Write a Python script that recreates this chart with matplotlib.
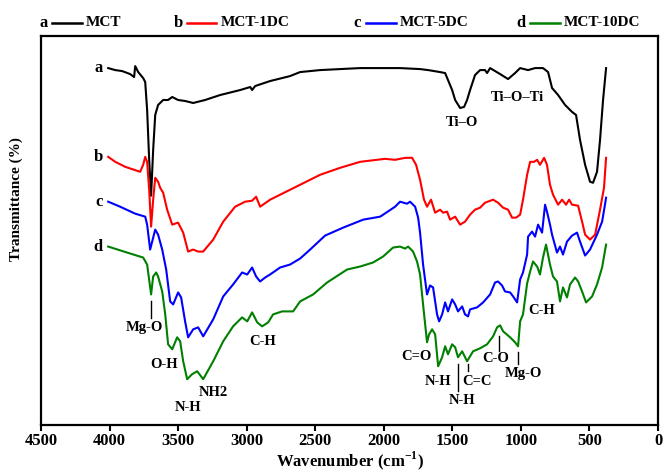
import matplotlib
matplotlib.use("Agg")
import matplotlib.pyplot as plt
from matplotlib.lines import Line2D

plt.rcParams['font.family'] = ['Liberation Serif', 'DejaVu Serif']
plt.rcParams['font.weight'] = 'bold'
plt.rcParams['mathtext.fontset'] = 'custom'
plt.rcParams['mathtext.rm'] = 'Liberation Serif'
plt.rcParams['mathtext.bf'] = 'Liberation Serif:bold'

# Spektren, Wellenzahl in cm-1, Transmission in willk. Einheiten (versetzt)
wn_a = [4011, 3960, 3909, 3851, 3822, 3814, 3792, 3756, 3741, 3727, 3712, 3698, 3683, 3668, 3647, 3610,
        3574, 3544, 3501, 3450, 3391, 3304, 3194, 3048, 2975, 2961, 2939, 2830, 2684, 2611, 2465, 2173,
        1882, 1736, 1677, 1590, 1553, 1532, 1502, 1480, 1444, 1415, 1393, 1371, 1335, 1298, 1262, 1247,
        1225, 1152, 1094, 1043, 1006, 948, 897, 839, 802, 773, 729, 678, 627, 598, 569, 532, 496, 474,
        445, 423, 401, 379]
t_a = [358, 356, 355, 352, 349, 360, 354, 348, 344, 316, 266, 230, 276, 311, 321, 326,
       326, 329, 326, 325, 323, 326, 331, 336, 339, 336, 340, 345, 350, 354, 356, 358,
       358, 357, 356, 354, 353, 346, 336, 326, 318, 319, 326, 336, 351, 356, 356, 353,
       358, 352, 347, 353, 358, 356, 358, 358, 354, 338, 331, 321, 314, 311, 286, 261, 244, 243,
       254, 286, 326, 358]

wn_b = [4011, 3960, 3887, 3778, 3756, 3741, 3727, 3712, 3698, 3683, 3668, 3647, 3632, 3610, 3581, 3544,
        3501, 3464, 3428, 3391, 3355, 3318, 3245, 3172, 3085, 3012, 2961, 2932, 2903, 2830, 2684, 2611,
        2465, 2319, 2173, 1991, 1918, 1845, 1794, 1765, 1736, 1707, 1685, 1656, 1626, 1590, 1568, 1539,
        1517, 1480, 1444, 1408, 1371, 1335, 1298, 1262, 1203, 1167, 1130, 1094, 1065, 1036, 1006, 985,
        955, 933, 904, 882, 861, 831, 810, 788, 766, 729, 700, 671, 649, 627, 583, 554, 532, 496, 459,
        423, 394, 379]
t_b = [269, 264, 259, 254, 261, 269, 264, 236, 199, 226, 248, 244, 238, 233, 216, 201,
       203, 193, 174, 176, 174, 174, 186, 204, 219, 224, 225, 229, 219, 226, 236, 241,
       251, 258, 264, 267, 266, 268, 268, 261, 246, 226, 219, 226, 213, 216, 213, 214,
       206, 209, 201, 204, 211, 216, 218, 223, 226, 223, 218, 216, 208, 208, 211, 226,
       251, 264, 264, 266, 261, 268, 261, 241, 231, 221, 226, 221, 226, 221, 220, 204, 191, 186, 191,
       216, 238, 268]

wn_c = [4011, 3924, 3814, 3741, 3727, 3705, 3668, 3647, 3617, 3588, 3559, 3537, 3501, 3479, 3450, 3428,
        3391, 3355, 3318, 3245, 3172, 3100, 3034, 2997, 2961, 2932, 2903, 2866, 2830, 2757, 2684, 2611,
        2538, 2429, 2297, 2151, 2027, 1918, 1882, 1831, 1809, 1772, 1750, 1736, 1714, 1685, 1663, 1641,
        1612, 1597, 1575, 1553, 1532, 1502, 1480, 1459, 1429, 1408, 1386, 1371, 1320, 1276, 1225, 1189,
        1167, 1138, 1116, 1079, 1057, 1028, 1006, 985, 955, 948, 919, 897, 875, 846, 824, 810, 788, 773,
        737, 715, 693, 664, 627, 591, 569, 532, 496, 445, 408, 387, 379]
t_c = [224, 219, 212, 209, 201, 176, 196, 191, 176, 156, 124, 121, 133, 128, 104, 88,
       96, 98, 89, 106, 129, 141, 153, 151, 158, 149, 144, 148, 151, 158, 161, 167,
       176, 190, 198, 206, 209, 219, 224, 222, 224, 219, 208, 193, 161, 131, 140, 138,
       111, 104, 111, 123, 114, 126, 121, 114, 119, 111, 109, 116, 118, 123, 131, 143,
       144, 140, 134, 133, 129, 123, 146, 153, 171, 189, 194, 189, 201, 193, 221, 214, 201, 191,
       173, 179, 171, 184, 190, 193, 184, 170, 176, 191, 204, 221, 228]

wn_d = [4011, 3873, 3756, 3727, 3698, 3683, 3661, 3647, 3617, 3595, 3574, 3544, 3508, 3486, 3464, 3435,
        3399, 3362, 3318, 3245, 3172, 3100, 3034, 2997, 2961, 2924, 2888, 2844, 2808, 2742, 2662, 2611,
        2516, 2414, 2268, 2173, 2079, 2006, 1933, 1882, 1845, 1823, 1787, 1758, 1736, 1714, 1685, 1670,
        1648, 1626, 1604, 1575, 1553, 1532, 1502, 1480, 1459, 1429, 1393, 1349, 1298, 1247, 1203, 1174,
        1152, 1130, 1079, 1043, 1021, 1006, 985, 955, 933, 912, 882, 861, 839, 817, 788, 766, 737, 715,
        693, 664, 642, 605, 583, 554, 525, 481, 445, 408, 379]
t_d = [179, 173, 168, 161, 131, 149, 153, 149, 134, 111, 81, 76, 88, 84, 64, 46,
       51, 54, 46, 64, 84, 99, 108, 104, 113, 103, 99, 103, 111, 114, 114, 124,
       131, 143, 156, 159, 163, 169, 178, 179, 177, 179, 174, 164, 151, 121, 83, 91,
       96, 91, 59, 68, 79, 71, 81, 78, 68, 74, 64, 74, 77, 81, 89, 98,
       100, 94, 88, 83, 79, 104, 111, 142, 154, 164, 159, 151, 168, 181, 161, 149, 144, 124,
       138, 128, 141, 148, 144, 134, 123, 129, 141, 158, 181]

letters = ['a', 'b', 'c', 'd']
names = ['MCT', 'MCT-1DC', 'MCT-5DC', 'MCT-10DC']
colors = ['black', 'red', 'blue', 'green']

# Bandenzuordnung: Text, Wellenzahl, Hoehe
peak_labels = [('Ti–O', 1429, 303), ('Ti–O–Ti', 1028, 329),
               ('Mg-O', 3749, 98), ('O-H', 3603, 61), ('NH2', 3245, 33), ('N-H', 3428, 18),
               ('C-H', 2881, 84), ('C=O', 1765, 69), ('N-H', 1604, 44), ('C=C', 1320, 44),
               ('N-H', 1429, 25), ('C-O', 1181, 67), ('Mg-O', 985, 52), ('C-H', 846, 115)]
# senkrechte Markierungsstriche: Wellenzahl, von, bis
marks = [(3698, 107, 124), (1459, 34, 61), (1386, 54, 61), (1160, 74, 89), (1021, 61, 73)]

fig = plt.figure(figsize=(6.64, 4.76), dpi=100)
ax = fig.add_axes([0.062, 0.107, 0.929, 0.817])

spectra = [(wn_a, t_a), (wn_b, t_b), (wn_c, t_c), (wn_d, t_d)]
for (wn, t), col, let in zip(spectra, colors, letters):
    ax.plot(wn, t, color=col, lw=1.5)
    ax.text(wn[0] + 40, t[0], let, ha='right', va='center', fontsize=12, fontweight='bold')

for txt, x, y in peak_labels:
    ax.text(x, y, txt, ha='center', va='center', fontsize=10.5, fontweight='bold')
for x, y0, y1 in marks:
    ax.plot([x, x], [y0, y1], color='black', lw=1)

ax.set_xlim(4500, 0)
ax.set_ylim(0, 390)
ax.set_xticks(range(4500, -1, -500))
ax.set_yticks([])
ax.tick_params(axis='x', direction='out', length=4, width=1.5, labelsize=12, pad=2)
for lab in ax.get_xticklabels():
    lab.set_fontweight('bold')
for sp in ax.spines.values():
    sp.set_linewidth(1.6)
ax.set_xlabel(r'Wavenumber (cm$^{\mathbf{-1}}$)', fontsize=12, fontweight='bold', labelpad=0)
ax.set_ylabel('Transmittance (%)', fontsize=11, fontweight='bold')
ax.yaxis.set_label_coords(-0.03, 0.58)

# Legende oben: Buchstabe, Linie, Name
leg_x = [0.065, 0.268, 0.538, 0.785]
for lx, let, nm, col in zip(leg_x, letters, names, colors):
    fig.text(lx, 0.952, let, ha='center', va='center', fontsize=12, fontweight='bold')
    fig.add_artist(Line2D([lx + 0.013, lx + 0.058], [0.952, 0.952], color=col, lw=1.8,
                          transform=fig.transFigure))
    fig.text(lx + 0.064, 0.952, nm, ha='left', va='center', fontsize=11, fontweight='bold')

fig.savefig('out.png', dpi=100)
